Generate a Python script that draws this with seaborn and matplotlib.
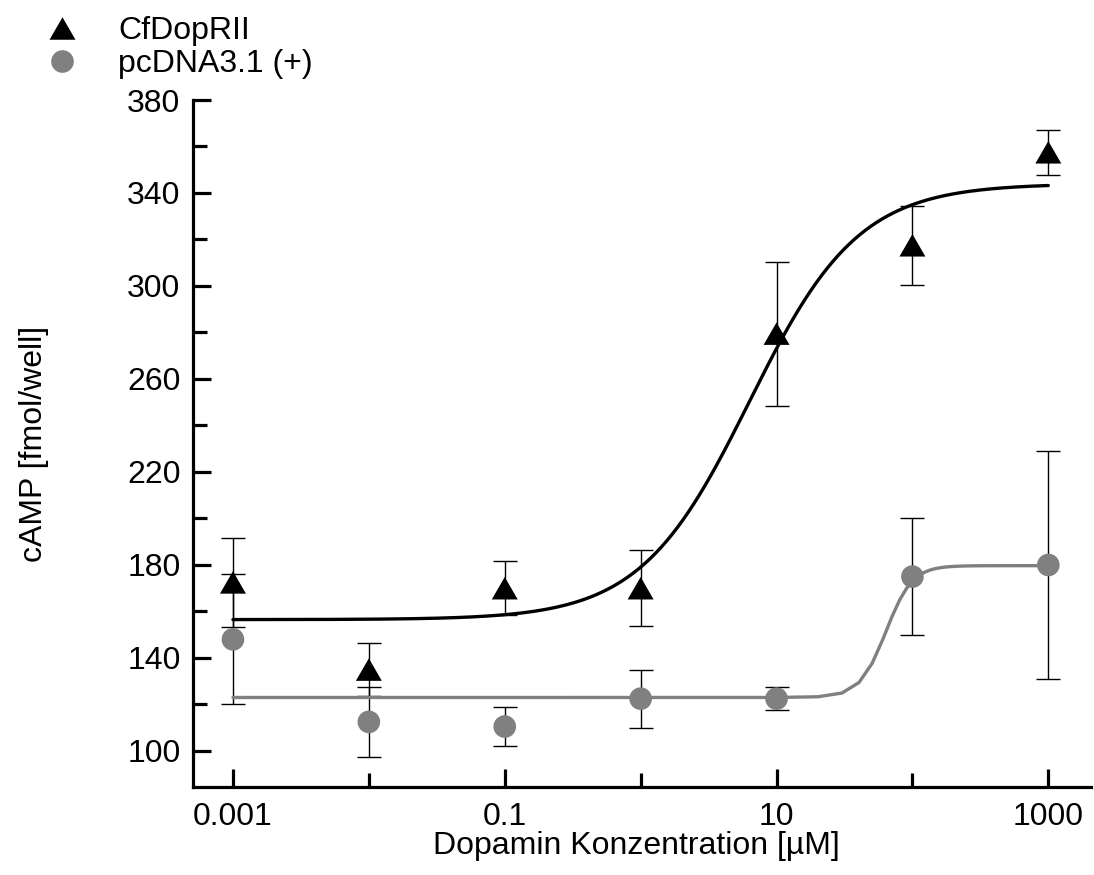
import numpy as np
import pandas as pd
import matplotlib
matplotlib.use("Agg")
import matplotlib.pyplot as plt
from matplotlib.lines import Line2D
from matplotlib.path import Path
from matplotlib.ticker import FixedLocator, NullFormatter, FixedFormatter
import seaborn as sns

# Dopamine concentrations (µM)
conc = [0.001, 0.01, 0.1, 1, 10, 100, 1000]

# cAMP response (fmol/well), mean and error
cf_mean = [172.5, 135.0, 170.0, 170.0, 279.5, 317.5, 357.5]
cf_err = [19.0, 11.5, 11.7, 16.3, 31.0, 17.0, 9.7]
pc_mean = [148.0, 112.5, 110.5, 122.5, 122.5, 175.0, 180.0]
pc_err = [28.0, 15.0, 8.2, 12.5, 5.0, 25.0, 49.0]

# Four-parameter logistic fit parameters (bottom, top, logEC50, Hill slope)
cf_fit = (156.5, 344.0, 0.80, 1.08)
pc_fit = (123.0, 179.7, 1.805, 4.5)

series_names = ["CfDopRII", "pcDNA3.1 (+)"]
x_ticks = [0.001, 0.1, 10, 1000]
x_tick_labels = ["0.001", "0.1", "10", "1000"]
x_minor = [0.01, 1, 100]
y_ticks = [100, 140, 180, 220, 260, 300, 340, 380]
y_minor = [120, 160, 200, 240, 280, 320, 360]


def logistic(x, p):
    bottom, top, log_ec50, hill = p
    x = np.asarray(x, dtype=float)
    return bottom + (top - bottom) / (1.0 + 10 ** (hill * (log_ec50 - np.log10(x))))


sns.set_style("ticks")
plt.rcParams["font.family"] = ["Liberation Sans", "DejaVu Sans"]
plt.rcParams["text.color"] = "black"
plt.rcParams["axes.labelcolor"] = "black"

FS = 23

fig = plt.figure(figsize=(10.94, 8.75), dpi=100)
ax = fig.add_axes([193 / 1094, 1 - 787 / 875, (1091 - 193) / 1094, (787 - 100) / 875])

GRAY = "#808080"
tri = Path([(0, 0.433), (-0.5, -0.433), (0.5, -0.433), (0, 0.433)],
           [Path.MOVETO, Path.LINETO, Path.LINETO, Path.CLOSEPOLY])

# error bars
ax.errorbar(conc, cf_mean, yerr=cf_err, fmt="none", ecolor="black",
            elinewidth=1.0, capsize=8.3, capthick=1.0, zorder=1)
ax.errorbar(conc, pc_mean, yerr=pc_err, fmt="none", ecolor="black",
            elinewidth=1.0, capsize=8.3, capthick=1.0, zorder=1)

# fitted curves
x_cf = np.logspace(-3, 3, 300)
x_pc = np.linspace(0.001, 1000, 100)
curve_cf = pd.DataFrame({"x": x_cf, "y": logistic(x_cf, cf_fit)})
curve_pc = pd.DataFrame({"x": x_pc, "y": logistic(x_pc, pc_fit)})
sns.lineplot(data=curve_cf, x="x", y="y", ax=ax, color="black", lw=2.4,
             estimator=None, sort=False, zorder=2)
sns.lineplot(data=curve_pc, x="x", y="y", ax=ax, color=GRAY, lw=2.4,
             estimator=None, sort=False, zorder=2)

# data points
pts_cf = pd.DataFrame({"x": conc, "y": cf_mean})
pts_pc = pd.DataFrame({"x": conc, "y": pc_mean})
sns.scatterplot(data=pts_cf, x="x", y="y", ax=ax, marker=tri, s=18.7 ** 2,
                color="black", edgecolor="none", linewidth=0, zorder=4)
sns.scatterplot(data=pts_pc, x="x", y="y", ax=ax, marker="o", s=16.3 ** 2,
                color=GRAY, edgecolor="none", linewidth=0, zorder=3)

ax.set_xscale("log")
ax.set_xlim(10 ** -3.294, 10 ** 3.314)
ax.set_ylim(84.5, 380)

ax.xaxis.set_major_locator(FixedLocator(x_ticks))
ax.xaxis.set_major_formatter(FixedFormatter(x_tick_labels))
ax.xaxis.set_minor_locator(FixedLocator(x_minor))
ax.xaxis.set_minor_formatter(NullFormatter())
ax.yaxis.set_major_locator(FixedLocator(y_ticks))
ax.yaxis.set_minor_locator(FixedLocator(y_minor))
ax.yaxis.set_minor_formatter(NullFormatter())

for s in ["top", "right"]:
    ax.spines[s].set_visible(False)
for s in ["left", "bottom"]:
    ax.spines[s].set_linewidth(2.3)
    ax.spines[s].set_color("black")

ax.tick_params(which="major", direction="in", length=13, width=2.3,
               labelsize=FS, color="black", labelcolor="black")
ax.tick_params(which="minor", direction="in", length=10, width=2.3, color="black")
ax.tick_params(axis="y", which="major", pad=9)
ax.tick_params(axis="x", which="major", pad=11)

ax.set_xlabel("Dopamin Konzentration [µM]", fontsize=FS, labelpad=-1)
ax.set_ylabel("cAMP [fmol/well]", fontsize=FS, labelpad=56)
ax.xaxis.label.set_x(0.494)

handles = [
    Line2D([], [], linestyle="none", marker=tri, markersize=18.7,
           markerfacecolor="black", markeredgewidth=0),
    Line2D([], [], linestyle="none", marker="o", markersize=16.3,
           markerfacecolor=GRAY, markeredgewidth=0),
]
fig.legend(handles, series_names, loc="upper left",
           bbox_to_anchor=(46 / 1094, 1 - 16 / 875), bbox_transform=fig.transFigure,
           frameon=False, fontsize=FS, handlelength=1.0, handletextpad=1.25,
           borderpad=0, borderaxespad=0, labelspacing=0.1)

fig.savefig("out.png", dpi=100)
